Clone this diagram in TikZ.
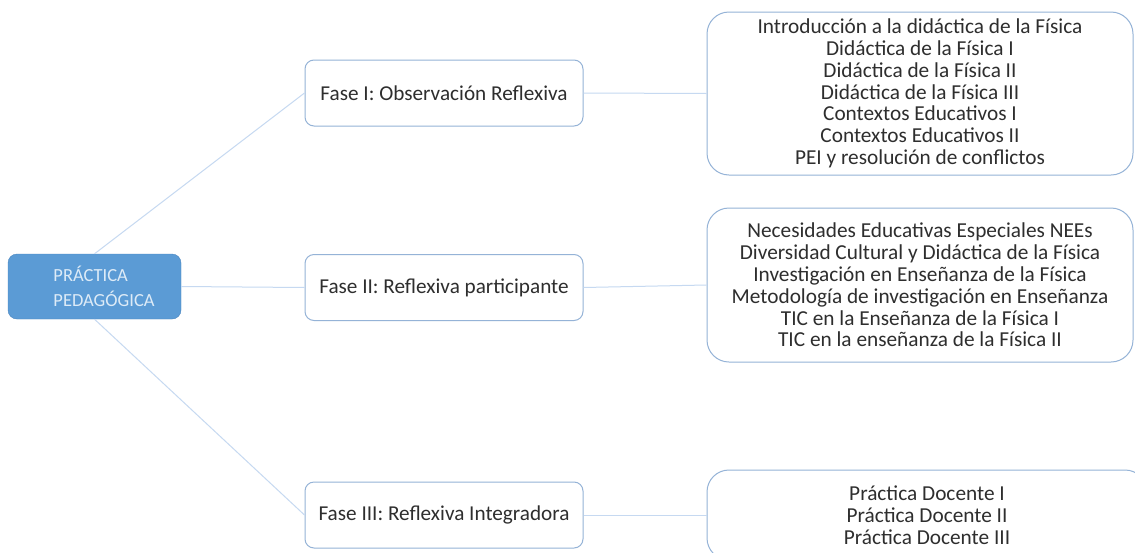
\documentclass[tikz,border=0pt]{standalone}
\usepackage{fontspec}
\setmainfont{Carlito}
\definecolor{raiz}{HTML}{5B9BD5}
\definecolor{raizborde}{HTML}{4A86C0}
\definecolor{raiztexto}{HTML}{DDEBF7}
\definecolor{borde}{HTML}{95B3D7}
\definecolor{enlace}{HTML}{C6D9F1}
\definecolor{texto}{HTML}{2E2E2E}
\tikzset{
  raizbox/.style={draw=raizborde, fill=raiz, rounded corners=9pt, minimum width=173pt, minimum height=65pt, align=left, text=raiztexto, font=\fontsize{18.5}{25}\selectfont},
  fasebox/.style={draw=borde, line width=1pt, rounded corners=9pt, minimum width=278pt, minimum height=66pt, text=texto, font=\fontsize{21.2}{24}\selectfont},
  listabox/.style={draw=borde, line width=1pt, rounded corners=22pt, minimum width=426pt, align=center, text=texto, font=\fontsize{21.3}{21.8}\selectfont},
  rama/.style={draw=enlace, line width=1pt}
}
\begin{document}
\begin{tikzpicture}[x=1pt, y=-1pt]
\useasboundingbox[fill=white] (0,0) rectangle (1135,552);
\clip (0,0) rectangle (1135,552);
\node[raizbox] (pp) at (94.5,286.5) {\hspace*{19pt}PRÁCTICA\\\hspace*{19pt}PEDAGÓGICA};
\node[fasebox] (f1) at (444,93) {Fase I: Observación Reflexiva};
\node[fasebox] (f2) at (444,287.5) {Fase II: Reflexiva participante};
\node[fasebox] (f3) at (444,515) {Fase III: Reflexiva Integradora};
\node[listabox, minimum height=163pt] (l1) at (920,93.5) {Introducción a la didáctica de la Física\\Didáctica de la Física I\\Didáctica de la Física II\\Didáctica de la Física III\\Contextos Educativos I\\Contextos Educativos II\\PEI y resolución de conflictos};
\node[listabox, minimum height=154pt] (l2) at (920,285) {Necesidades Educativas Especiales NEEs\\Diversidad Cultural y Didáctica de la Física\\Investigación en Enseñanza de la Física\\Metodología de investigación en Enseñanza\\TIC en la Enseñanza de la Física I\\TIC en la enseñanza de la Física II};
\node[listabox, minimum height=90pt, minimum width=440pt] (l3) at (927,515) {Práctica Docente I\\Práctica Docente II\\Práctica Docente III};
\draw[rama] (pp.north)--(f1.west);
\draw[rama] (pp.east)--(f2.west);
\draw[rama] (pp.south)--(f3.west);
\draw[rama] (f1.east)--(l1.west);
\draw[rama] (f2.east)--(l2.west);
\draw[rama] (f3.east)--(l3.west);
\end{tikzpicture}
\end{document}
